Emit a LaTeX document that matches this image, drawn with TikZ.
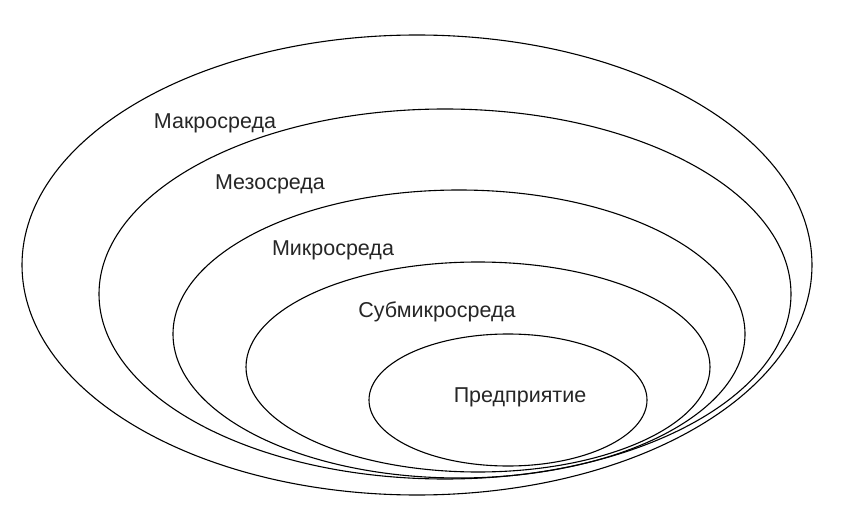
\documentclass[tikz,border=0pt]{standalone}
\usepackage{fontspec}
\setmainfont{Liberation Sans}
\begin{document}
\begin{tikzpicture}[x=1pt,y=-1pt,
  ring/.style={draw=black,line width=1.1pt},
  lbl/.style={font=\fontsize{21.5}{25}\selectfont,inner sep=0pt,text=black!85}]
\useasboundingbox (0,0) rectangle (844,524);
\fill[white] (0,0) rectangle (844,524);
\draw[ring] (417,265) ellipse [x radius=395, y radius=230];
\draw[ring] (445,294) ellipse [x radius=346, y radius=185];
\draw[ring] (459,334) ellipse [x radius=286, y radius=144];
\draw[ring] (478,367) ellipse [x radius=232, y radius=105];
\draw[ring] (508,400) ellipse [x radius=139, y radius=66];
\node[lbl] (macro) at (215,123) {Макросреда};
\node[lbl] (meso) at (270,184) {Мезосреда};
\node[lbl] (micro) at (333,250) {Микросреда};
\node[lbl] (submicro) at (437,312) {Субмикросреда};
\node[lbl] (firm) at (520,397) {Предприятие};
\end{tikzpicture}
\end{document}
